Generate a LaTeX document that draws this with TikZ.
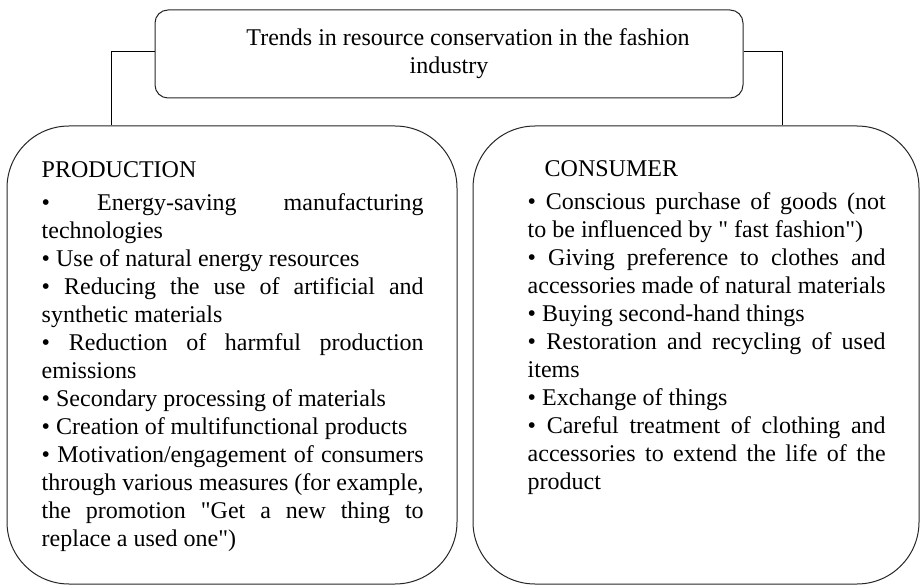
\documentclass[tikz,border=0pt]{standalone}
\usepackage{fontspec}
\setmainfont{Liberation Serif}
\tolerance=9999
\hyphenpenalty=10000
\exhyphenpenalty=10000

\begin{document}
\begin{tikzpicture}[x=1pt,y=1pt,
  box/.style={draw=black!85,line width=1pt,rectangle},
  txt/.style={inner sep=0pt,anchor=base west,align=justify,font=\fontsize{24}{28}\selectfont}]
\useasboundingbox (0,0) rectangle (921,587);
\node[box,rounded corners=13pt,minimum width=588pt,minimum height=88pt,align=center,font=\fontsize{24}{28}\selectfont] (trends) at (449,533) {\hspace*{38pt}Trends in resource conservation in the fashion\\industry};
\node[box,rounded corners=62pt,minimum width=450pt,minimum height=458pt] (prod) at (232,232) {};
\node[box,rounded corners=62pt,minimum width=446pt,minimum height=458pt] (cons) at (696,232) {};
% texts
\node[txt,text width=382pt] (prodtext) at ([xshift=35pt,yshift=-52pt]prod.north west) {PRODUCTION\\[5pt]
• Energy-saving manufacturing\linebreak technologies\\
• Use of natural energy resources\\
• Reducing the use of artificial and\linebreak synthetic materials\\
• Reduction of harmful production\linebreak emissions\\
• Secondary processing of materials\\
• Creation of multifunctional products\\
• Motivation/engagement of consumers\linebreak through various measures (for example,\linebreak the promotion \textquotedbl Get a new thing to\linebreak replace a used one\textquotedbl)};
\node[txt,text width=358pt] (constext) at ([xshift=55pt,yshift=-51pt]cons.north west) {\hspace*{17pt}CONSUMER\\[5pt]
• Conscious purchase of goods (not\linebreak to be influenced by \textquotedbl\ fast fashion\textquotedbl)\\
• Giving preference to clothes and\linebreak accessories made of natural materials\\
• Buying second-hand things\\
• Restoration and recycling of used\linebreak items\\
• Exchange of things\\
• Careful treatment of clothing and\linebreak accessories to extend the life of the\linebreak product};
% connectors
\path[draw,line width=1pt] ([yshift=2pt]trends.west) -| ([xshift=105pt]prod.north west);
\path[draw,line width=1pt] ([yshift=2pt]trends.east) -| ([xshift=310pt]cons.north west);
\end{tikzpicture}
\end{document}
